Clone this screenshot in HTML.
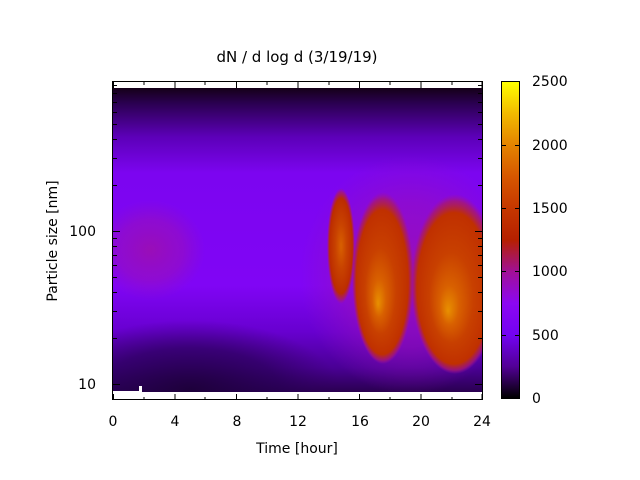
<!DOCTYPE html>
<html><head><meta charset="utf-8"><style>
html,body{margin:0;padding:0;background:#fff;}
svg{display:block;font-family:"DejaVu Sans","Liberation Sans",sans-serif;}
</style></head><body>
<svg width="640" height="480" viewBox="0 0 640 480">
<defs>
<linearGradient id="bg" x1="0" y1="0" x2="0" y2="1">
<stop offset="0" stop-color="#150018"/>
<stop offset="0.05" stop-color="#2a0050"/>
<stop offset="0.16" stop-color="#5c00b8"/>
<stop offset="0.28" stop-color="#7c05f0"/>
<stop offset="0.65" stop-color="#8005f5"/>
<stop offset="0.8" stop-color="#6800d0"/>
<stop offset="0.92" stop-color="#4a0095"/>
<stop offset="1" stop-color="#2a0050"/>
</linearGradient>
<linearGradient id="cb" x1="0" y1="1" x2="0" y2="0">
<stop offset="0" stop-color="#000000"/>
<stop offset="0.1" stop-color="#520096"/>
<stop offset="0.2" stop-color="#7302f2"/>
<stop offset="0.3" stop-color="#8c07f2"/>
<stop offset="0.4" stop-color="#a11096"/>
<stop offset="0.5" stop-color="#b52000"/>
<stop offset="0.6" stop-color="#c53700"/>
<stop offset="0.7" stop-color="#d65700"/>
<stop offset="0.8" stop-color="#e48300"/>
<stop offset="0.9" stop-color="#f2ba00"/>
<stop offset="1" stop-color="#ffff00"/>
</linearGradient>
<radialGradient id="mag"><stop offset="0" stop-color="#a010a8" stop-opacity="0.8"/><stop offset="0.6" stop-color="#9a10b8" stop-opacity="0.55"/><stop offset="1" stop-color="#9010c0" stop-opacity="0"/></radialGradient>
<radialGradient id="dark"><stop offset="0" stop-color="#1c0038" stop-opacity="0.9"/><stop offset="0.6" stop-color="#250050" stop-opacity="0.6"/><stop offset="1" stop-color="#300060" stop-opacity="0"/></radialGradient>
<radialGradient id="b1"><stop offset="0" stop-color="#d86000"/><stop offset="0.4" stop-color="#c84200"/><stop offset="0.82" stop-color="#bc2c00"/><stop offset="0.93" stop-color="#a81870" stop-opacity="0.8"/><stop offset="1" stop-color="#a010a0" stop-opacity="0"/></radialGradient>
<radialGradient id="b2" fx="0.42" fy="0.65"><stop offset="0" stop-color="#e89000"/><stop offset="0.22" stop-color="#d86000"/><stop offset="0.5" stop-color="#c84000"/><stop offset="0.84" stop-color="#c03000"/><stop offset="0.94" stop-color="#a81870" stop-opacity="0.8"/><stop offset="1" stop-color="#a010a0" stop-opacity="0"/></radialGradient>
<clipPath id="cp"><rect x="113" y="88" width="369" height="304"/></clipPath>
</defs>
<g clip-path="url(#cp)">
<rect x="113" y="88" width="369" height="304" fill="url(#bg)"/>
<ellipse cx="150" cy="250" rx="55" ry="50" fill="url(#mag)"/>
<ellipse cx="410" cy="275" rx="110" ry="120" fill="url(#mag)"/>
<ellipse cx="190" cy="390" rx="150" ry="70" fill="url(#dark)"/>
<ellipse cx="341" cy="246" rx="14" ry="58" fill="url(#b1)"/>
<ellipse cx="383" cy="278" rx="31" ry="86" fill="url(#b2)"/>
<ellipse cx="455" cy="284" rx="44" ry="90" fill="url(#b2)"/>
</g>
<rect x="113" y="391" width="26" height="2" fill="#fff"/>
<rect x="139" y="386" width="3" height="7" fill="#fff"/>
<rect x="142" y="392" width="64" height="1" fill="#fff"/>
<g stroke="#000" stroke-width="1" fill="none">
<rect x="112.5" y="81.5" width="370" height="318"/>
<rect x="501.5" y="81.5" width="18" height="317"/>
</g>
<rect x="502" y="82" width="17" height="316" fill="url(#cb)"/>
<g stroke="#000" stroke-width="1">
<path d="M113.5 400v-6M113.5 82v6M175 400v-6M175 82v6M236.5 400v-6M236.5 82v6M298 400v-6M298 82v6M359.5 400v-6M359.5 82v6M421 400v-6M421 82v6M482 400v-6M482 82v6"/>
<path d="M144 400v-3M205 400v-3M267 400v-3M329 400v-3M390 400v-3M452 400v-3M144 82v3M205 82v3M267 82v3M329 82v3M390 82v3M452 82v3"/>
<path d="M113 231.5h7M482 231.5h-7M113 384.5h7M482 384.5h-7"/>
<path d="M113 185.5h4M113 158.5h4M113 139.5h4M113 124.5h4M113 112.5h4M113 102.5h4M113 93.5h4M113 85.5h4"/>
<path d="M113 338.5h4M113 311.5h4M113 292.5h4M113 277.5h4M113 265.5h4M113 255.5h4M113 246.5h4M113 238.5h4"/>
<path d="M482 185.5h-4M482 158.5h-4M482 139.5h-4M482 124.5h-4M482 112.5h-4M482 102.5h-4M482 93.5h-4M482 85.5h-4"/>
<path d="M482 338.5h-4M482 311.5h-4M482 292.5h-4M482 277.5h-4M482 265.5h-4M482 255.5h-4M482 246.5h-4M482 238.5h-4"/>
<path d="M501 398.5h5M520 398.5h-5M501 335.5h5M520 335.5h-5M501 271.5h5M520 271.5h-5M501 208.5h5M520 208.5h-5M501 145.5h5M520 145.5h-5M501 81.5h5M520 81.5h-5"/>
</g>
<g font-size="14" fill="#000">
<text x="297" y="62" text-anchor="middle" font-size="15">dN / d log d (3/19/19)</text>
<g text-anchor="middle">
<text x="113" y="426">0</text><text x="175" y="426">4</text><text x="237" y="426">8</text>
<text x="298" y="426">12</text><text x="360" y="426">16</text><text x="421" y="426">20</text><text x="482" y="426">24</text>
</g>
<text x="297" y="453" text-anchor="middle">Time [hour]</text>
<text x="96" y="236" text-anchor="end">100</text>
<text x="96" y="389" text-anchor="end">10</text>
<text transform="translate(57,241) rotate(-90)" text-anchor="middle">Particle size [nm]</text>
<g text-anchor="start">
<text x="532" y="403">0</text><text x="532" y="340">500</text><text x="532" y="276">1000</text>
<text x="532" y="213">1500</text><text x="532" y="150">2000</text><text x="532" y="86">2500</text>
</g>
</g>
</svg>
</body></html>
